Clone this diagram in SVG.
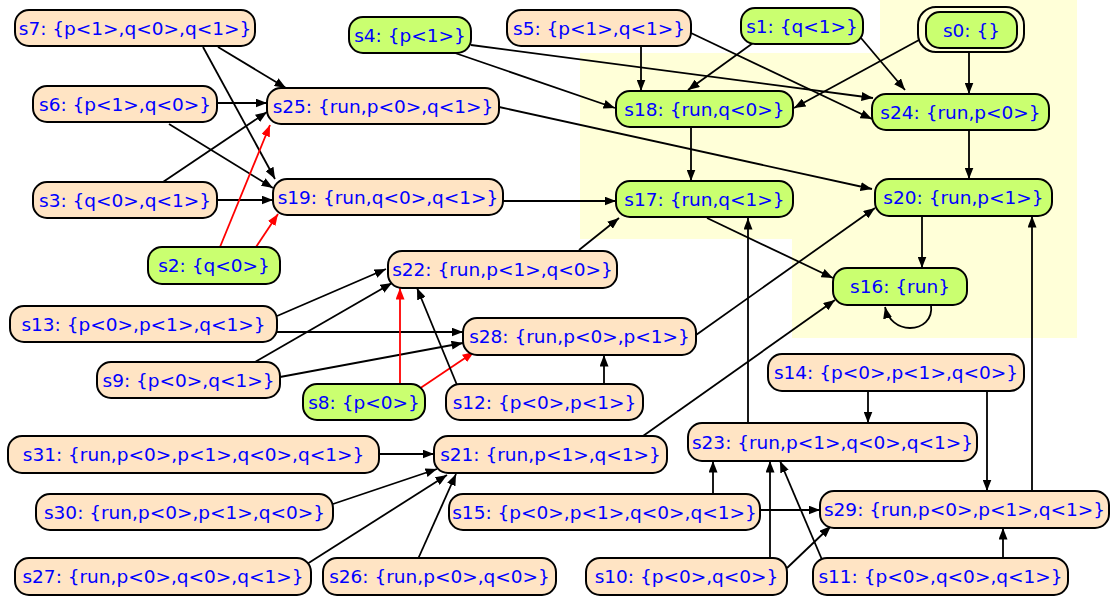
<svg xmlns="http://www.w3.org/2000/svg" width="1117" height="599" viewBox="0 0 1117 599">
  <defs>
    <marker id="arr" markerUnits="userSpaceOnUse" markerWidth="12" markerHeight="9" refX="11.5" refY="4.5" orient="auto">
      <path d="M0,0 L11.5,4.5 L0,9 z" fill="#000"/>
    </marker>
    <marker id="arrRed" markerUnits="userSpaceOnUse" markerWidth="12" markerHeight="9" refX="11.5" refY="4.5" orient="auto">
      <path d="M0,0 L11.5,4.5 L0,9 z" fill="#ff0000"/>
    </marker>
  </defs>
  <style>
    .n rect { stroke: #000; stroke-width: 2; }
    .peach { fill: #ffe4c4; }
    .green { fill: #caff70; }
    .n text { font-family: "DejaVu Sans", "Liberation Sans", sans-serif; font-size: 18.5px; fill: #0000ff; text-anchor: middle; }
    .e line, .e path { stroke: #000; stroke-width: 1.8; fill: none; marker-end: url(#arr); }
    .e .red { stroke: #ff0000; marker-end: url(#arrRed); }
  </style>

  <rect width="1117" height="599" fill="#fff"/>

  <!-- cluster background -->
  <g id="cluster">
    <path d="M880,0 H1077 V338 H792 V239 H580 V53 H880 Z" fill="#ffffd8"/>
  </g>

  <!-- connectors -->
  <g id="edges" class="e">
    <line x1="218" y1="47" x2="286" y2="88"/>
    <line x1="203" y1="47" x2="275" y2="179"/>
    <line x1="217" y1="103" x2="267" y2="103"/>
    <line x1="169" y1="124" x2="273" y2="188"/>
    <line x1="163" y1="182" x2="267" y2="112"/>
    <line x1="217" y1="200" x2="273" y2="200"/>
    <line class="red" x1="220" y1="247" x2="270" y2="125"/>
    <line class="red" x1="256" y1="247" x2="278" y2="214"/>
    <line x1="455" y1="53" x2="615" y2="108"/>
    <line x1="471" y1="45" x2="873" y2="98"/>
    <line x1="641" y1="46" x2="641" y2="91"/>
    <line x1="691" y1="33" x2="872" y2="119"/>
    <line x1="753" y1="43" x2="688" y2="90"/>
    <line x1="861" y1="38" x2="905" y2="90"/>
    <line x1="919" y1="40" x2="794" y2="108"/>
    <line x1="969" y1="52" x2="969" y2="94"/>
    <line x1="499" y1="107" x2="872" y2="189"/>
    <line x1="691" y1="127" x2="691" y2="181"/>
    <line x1="969" y1="130" x2="969" y2="179"/>
    <line x1="503" y1="201" x2="616" y2="201"/>
    <line x1="579" y1="250" x2="619" y2="218"/>
    <line x1="707" y1="218" x2="833" y2="278"/>
    <line x1="922" y1="216" x2="922" y2="268"/>
    <path d="M931,305 C933,320 922,328 910,328 C898,328 888,320 885,307"/>
    <line x1="277" y1="316" x2="386" y2="269"/>
    <line x1="277" y1="332" x2="463" y2="332"/>
    <line x1="255" y1="362" x2="392" y2="283"/>
    <line x1="280" y1="377" x2="463" y2="343"/>
    <line class="red" x1="400" y1="384" x2="400" y2="288"/>
    <line class="red" x1="419" y1="389" x2="474" y2="352"/>
    <line x1="457" y1="385" x2="417" y2="288"/>
    <line x1="604" y1="384" x2="604" y2="355"/>
    <line x1="696" y1="335" x2="875" y2="208"/>
    <line x1="643" y1="436" x2="835" y2="300"/>
    <line x1="748" y1="423" x2="748" y2="218"/>
    <line x1="868" y1="391" x2="868" y2="423"/>
    <line x1="987" y1="391" x2="987" y2="491"/>
    <line x1="1032" y1="491" x2="1032" y2="216"/>
    <line x1="379" y1="454" x2="434" y2="454"/>
    <line x1="333" y1="504" x2="437" y2="469"/>
    <line x1="307" y1="564" x2="447" y2="475"/>
    <line x1="418" y1="559" x2="456" y2="474"/>
    <line x1="713" y1="494" x2="713" y2="461"/>
    <line x1="760" y1="510" x2="820" y2="510"/>
    <line x1="770" y1="558" x2="770" y2="461"/>
    <line x1="787" y1="568" x2="831" y2="526"/>
    <line x1="823" y1="562" x2="780" y2="461"/>
    <line x1="1003" y1="558" x2="1003" y2="528"/>
  </g>

  <!-- nodes -->
  <g id="s0" class="n">
    <rect x="918" y="7" width="106" height="45" rx="18" fill="none"/>
    <rect class="green" x="926" y="12" width="91" height="36" rx="14"/>
    <text x="971.5" y="36.5">s0: {}</text>
  </g>
  <g id="s1" class="n">
    <rect class="green" x="741" y="8" width="122" height="36" rx="14"/>
    <text x="802" y="32.5">s1: {q&lt;1&gt;}</text>
  </g>
  <g id="s4" class="n">
    <rect class="green" x="349" y="17" width="122" height="36" rx="14"/>
    <text x="410" y="41.5">s4: {p&lt;1&gt;}</text>
  </g>
  <g id="s5" class="n">
    <rect class="peach" x="507" y="10" width="184" height="36" rx="14"/>
    <text x="599" y="34.5">s5: {p&lt;1&gt;,q&lt;1&gt;}</text>
  </g>
  <g id="s7" class="n">
    <rect class="peach" x="15" y="10" width="240" height="36" rx="14"/>
    <text x="135" y="34.5">s7: {p&lt;1&gt;,q&lt;0&gt;,q&lt;1&gt;}</text>
  </g>
  <g id="s6" class="n">
    <rect class="peach" x="33" y="86" width="184" height="36" rx="14"/>
    <text x="125" y="110.5">s6: {p&lt;1&gt;,q&lt;0&gt;}</text>
  </g>
  <g id="s25" class="n">
    <rect class="peach" x="267" y="88" width="232" height="36" rx="14"/>
    <text x="383" y="112.5">s25: {run,p&lt;0&gt;,q&lt;1&gt;}</text>
  </g>
  <g id="s18" class="n">
    <rect class="green" x="616" y="91" width="177" height="36" rx="14"/>
    <text x="704.5" y="115.5">s18: {run,q&lt;0&gt;}</text>
  </g>
  <g id="s24" class="n">
    <rect class="green" x="872" y="94" width="177" height="36" rx="14"/>
    <text x="960.5" y="118.5">s24: {run,p&lt;0&gt;}</text>
  </g>
  <g id="s3" class="n">
    <rect class="peach" x="33" y="182" width="184" height="36" rx="14"/>
    <text x="125" y="206.5">s3: {q&lt;0&gt;,q&lt;1&gt;}</text>
  </g>
  <g id="s19" class="n">
    <rect class="peach" x="273" y="179" width="230" height="36" rx="14"/>
    <text x="388" y="203.5">s19: {run,q&lt;0&gt;,q&lt;1&gt;}</text>
  </g>
  <g id="s17" class="n">
    <rect class="green" x="616" y="181" width="177" height="36" rx="14"/>
    <text x="704.5" y="205.5">s17: {run,q&lt;1&gt;}</text>
  </g>
  <g id="s20" class="n">
    <rect class="green" x="875" y="179" width="177" height="37" rx="14"/>
    <text x="963.5" y="203.5">s20: {run,p&lt;1&gt;}</text>
  </g>
  <g id="s2" class="n">
    <rect class="green" x="148" y="247" width="132" height="37" rx="14"/>
    <text x="214" y="272">s2: {q&lt;0&gt;}</text>
  </g>
  <g id="s22" class="n">
    <rect class="peach" x="388" y="251" width="229" height="37" rx="14"/>
    <text x="502.5" y="276">s22: {run,p&lt;1&gt;,q&lt;0&gt;}</text>
  </g>
  <g id="s16" class="n">
    <rect class="green" x="833" y="268" width="134" height="37" rx="14"/>
    <text x="900" y="293">s16: {run}</text>
  </g>
  <g id="s13" class="n">
    <rect class="peach" x="10" y="306" width="267" height="36" rx="14"/>
    <text x="143.5" y="330.5">s13: {p&lt;0&gt;,p&lt;1&gt;,q&lt;1&gt;}</text>
  </g>
  <g id="s28" class="n">
    <rect class="peach" x="463" y="318" width="233" height="37" rx="14"/>
    <text x="579.5" y="343">s28: {run,p&lt;0&gt;,p&lt;1&gt;}</text>
  </g>
  <g id="s9" class="n">
    <rect class="peach" x="97" y="362" width="183" height="36" rx="14"/>
    <text x="188.5" y="386.5">s9: {p&lt;0&gt;,q&lt;1&gt;}</text>
  </g>
  <g id="s8" class="n">
    <rect class="green" x="303" y="384" width="122" height="36" rx="14"/>
    <text x="364" y="408.5">s8: {p&lt;0&gt;}</text>
  </g>
  <g id="s12" class="n">
    <rect class="peach" x="446" y="384" width="197" height="36" rx="14"/>
    <text x="544.5" y="408.5">s12: {p&lt;0&gt;,p&lt;1&gt;}</text>
  </g>
  <g id="s14" class="n">
    <rect class="peach" x="768" y="354" width="256" height="37" rx="14"/>
    <text x="896" y="379">s14: {p&lt;0&gt;,p&lt;1&gt;,q&lt;0&gt;}</text>
  </g>
  <g id="s31" class="n">
    <rect class="peach" x="8" y="436" width="371" height="37" rx="14"/>
    <text x="193.5" y="461">s31: {run,p&lt;0&gt;,p&lt;1&gt;,q&lt;0&gt;,q&lt;1&gt;}</text>
  </g>
  <g id="s21" class="n">
    <rect class="peach" x="434" y="436" width="233" height="37" rx="14"/>
    <text x="550.5" y="461">s21: {run,p&lt;1&gt;,q&lt;1&gt;}</text>
  </g>
  <g id="s23" class="n">
    <rect class="peach" x="688" y="423" width="289" height="38" rx="14"/>
    <text x="832.5" y="448.5">s23: {run,p&lt;1&gt;,q&lt;0&gt;,q&lt;1&gt;}</text>
  </g>
  <g id="s30" class="n">
    <rect class="peach" x="36" y="494" width="297" height="36" rx="14"/>
    <text x="184.5" y="518.5">s30: {run,p&lt;0&gt;,p&lt;1&gt;,q&lt;0&gt;}</text>
  </g>
  <g id="s15" class="n">
    <rect class="peach" x="449" y="494" width="311" height="36" rx="14"/>
    <text x="604.5" y="518.5">s15: {p&lt;0&gt;,p&lt;1&gt;,q&lt;0&gt;,q&lt;1&gt;}</text>
  </g>
  <g id="s29" class="n">
    <rect class="peach" x="820" y="491" width="289" height="37" rx="14"/>
    <text x="964.5" y="516">s29: {run,p&lt;0&gt;,p&lt;1&gt;,q&lt;1&gt;}</text>
  </g>
  <g id="s27" class="n">
    <rect class="peach" x="15" y="558" width="296" height="37" rx="14"/>
    <text x="163" y="583">s27: {run,p&lt;0&gt;,q&lt;0&gt;,q&lt;1&gt;}</text>
  </g>
  <g id="s26" class="n">
    <rect class="peach" x="323" y="558" width="233" height="37" rx="14"/>
    <text x="439.5" y="583">s26: {run,p&lt;0&gt;,q&lt;0&gt;}</text>
  </g>
  <g id="s10" class="n">
    <rect class="peach" x="586" y="558" width="201" height="37" rx="14"/>
    <text x="686.5" y="583">s10: {p&lt;0&gt;,q&lt;0&gt;}</text>
  </g>
  <g id="s11" class="n">
    <rect class="peach" x="813" y="558" width="255" height="37" rx="14"/>
    <text x="940.5" y="583">s11: {p&lt;0&gt;,q&lt;0&gt;,q&lt;1&gt;}</text>
  </g>
</svg>
